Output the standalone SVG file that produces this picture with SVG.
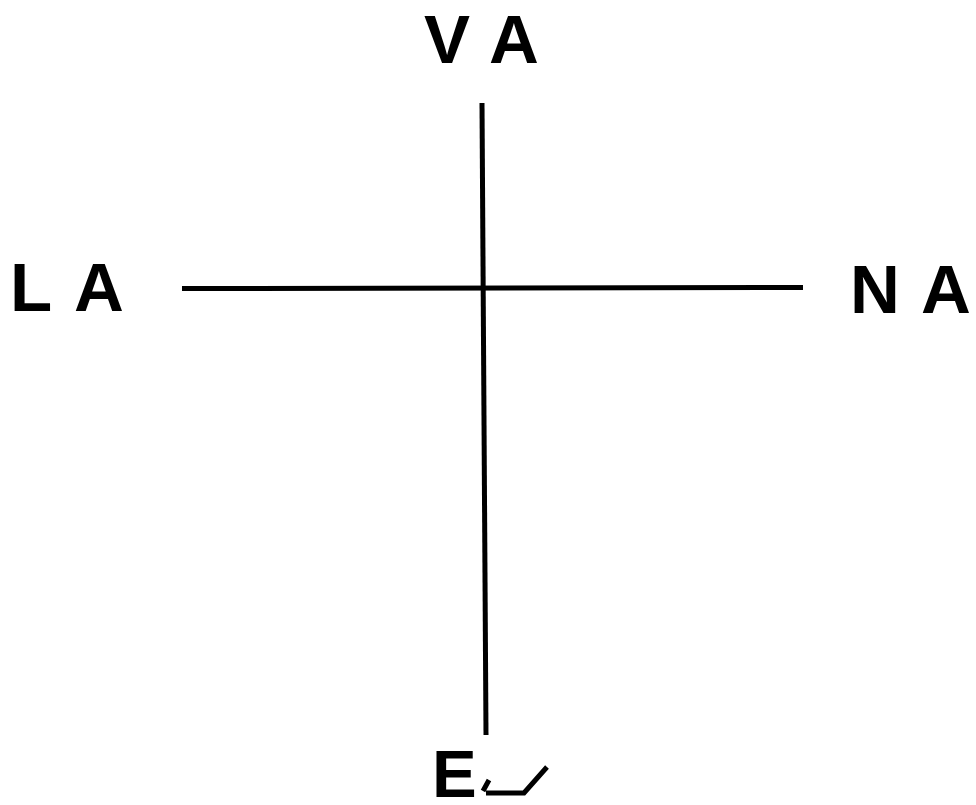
<svg xmlns="http://www.w3.org/2000/svg" width="976" height="805" viewBox="0 0 976 805">
<style>
.lbl{font-family:"Liberation Sans",Arial,sans-serif;font-weight:bold;font-size:69px;fill:#000}
.ax{stroke:#000;stroke-width:5;fill:none;stroke-linecap:butt}
</style>
<rect width="976" height="805" fill="#fff"/>
<g id="connectors">
<line class="ax" x1="482" y1="103" x2="486" y2="735"/>
<line class="ax" x1="182" y1="288.5" x2="803" y2="287.5"/>
</g>
<g id="node-VA"><text class="lbl" x="424 446 489" y="63">V A</text></g>
<g id="node-LA"><text class="lbl" x="10 52 74" y="311">L A</text></g>
<g id="node-NA"><text class="lbl" x="850 900 921" y="313">N A</text></g>
<g id="node-E">
<text class="lbl" x="432" y="797" style="font-size:67px">E</text>
<path class="ax" d="M489,780 L483,791 M486,793 L524,793 L547,767"/>
</g>
</svg>
